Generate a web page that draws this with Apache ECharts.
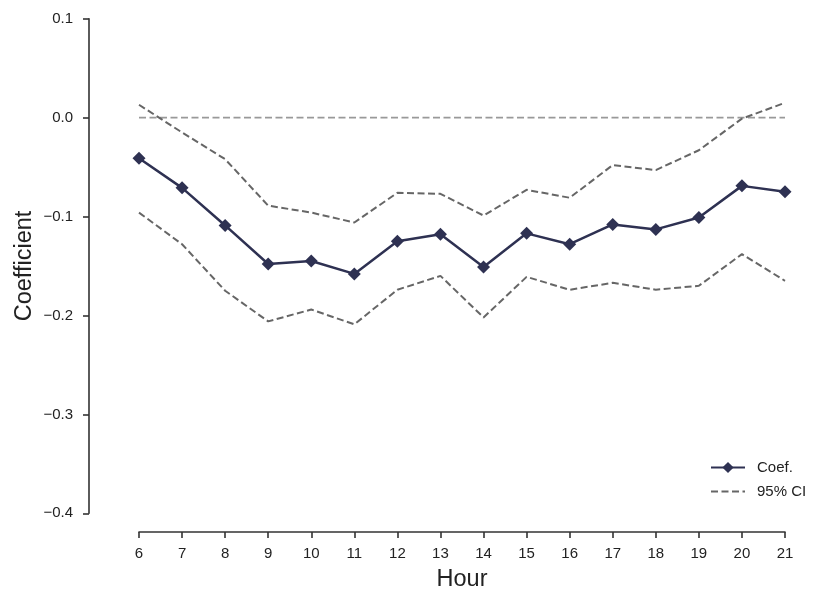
<!DOCTYPE html>
<html>
<head>
<meta charset="utf-8">
<script src="https://cdn.jsdelivr.net/npm/echarts@6/dist/echarts.min.js"></script>
<style>html,body{margin:0;padding:0;background:#fff;}#c{width:831px;height:604px;}</style>
</head>
<body>
<div id="c"></div>
<script>
const hours = [6,7,8,9,10,11,12,13,14,15,16,17,18,19,20,21];
const coef  = [-0.041,-0.071,-0.109,-0.148,-0.145,-0.158,-0.125,-0.118,-0.151,-0.117,-0.128,-0.108,-0.113,-0.101,-0.069,-0.075];
const upper = [0.013,-0.015,-0.042,-0.089,-0.096,-0.106,-0.076,-0.077,-0.099,-0.073,-0.081,-0.048,-0.053,-0.033,-0.001,0.015];
const lower = [-0.096,-0.128,-0.175,-0.206,-0.194,-0.209,-0.174,-0.160,-0.202,-0.161,-0.174,-0.167,-0.174,-0.170,-0.138,-0.165];
const zeroLine = [[6,0],[21,0]];

const pairs = arr => hours.map((h,i)=>[h,arr[i]]);
const font = "'Liberation Sans', Arial, sans-serif";
const axisColor = '#333333';
const ciColor = '#666666';

const chart = echarts.init(document.getElementById('c'), null, {renderer:'canvas'});
chart.setOption({
  animation:false,
  backgroundColor:'#ffffff',
  grid:{left:139,right:46,top:18.7,bottom:90.7,containLabel:false},
  xAxis:{
    type:'value', min:6, max:21, interval:1, offset:18.7,
    name:'Hour', nameLocation:'middle', nameGap:36, nameMoveOverlap:false,
    nameTextStyle:{fontFamily:font,fontSize:23.5,color:'#222'},
    axisLine:{show:true,onZero:false,lineStyle:{color:axisColor,width:1.6}},
    axisTick:{show:true,length:6,lineStyle:{color:axisColor,width:1.6}},
    axisLabel:{fontFamily:font,fontSize:15,color:'#222',margin:14},
    splitLine:{show:false}
  },
  yAxis:{
    type:'value', min:-0.4, max:0.1, interval:0.1, offset:50,
    name:'Coefficient', nameLocation:'middle', nameGap:52, nameMoveOverlap:false,
    nameTextStyle:{fontFamily:font,fontSize:23.5,color:'#222'},
    axisLine:{show:true,onZero:false,lineStyle:{color:axisColor,width:1.6}},
    axisTick:{show:true,length:6,lineStyle:{color:axisColor,width:1.6}},
    axisLabel:{fontFamily:font,fontSize:15,color:'#222',margin:16,
      formatter:v=>v.toFixed(1).replace('-','\u2212').replace('\u22120.0','0.0')},
    splitLine:{show:false}
  },
  legend:{
    orient:'vertical', left:705, top:455, itemWidth:34, itemHeight:14, itemGap:9,
    textStyle:{fontFamily:font,fontSize:15,color:'#222',padding:[0,0,0,7]},
    data:[{name:'Coef.'},{name:'95% CI',itemStyle:{color:'rgba(0,0,0,0)',borderWidth:0,opacity:0}}]
  },
  series:[
    {name:'zero',type:'line',data:zeroLine,symbol:'none',silent:true,
     lineStyle:{color:'#999999',width:1.8,type:[7,3.5]},z:1},
    {name:'95% CI',type:'line',data:pairs(upper),symbol:'none',
     itemStyle:{color:ciColor},lineStyle:{color:ciColor,width:2,type:[7,3.5]},z:2},
    {name:'95% CI',type:'line',data:pairs(lower),symbol:'none',
     itemStyle:{color:ciColor},lineStyle:{color:ciColor,width:2,type:[7,3.5]},z:2},
    {name:'Coef.',type:'line',data:pairs(coef),symbol:'diamond',symbolSize:13,
     itemStyle:{color:'#2e3152'},lineStyle:{color:'#2e3152',width:2.5},z:3}
  ]
});
</script>
</body>
</html>
